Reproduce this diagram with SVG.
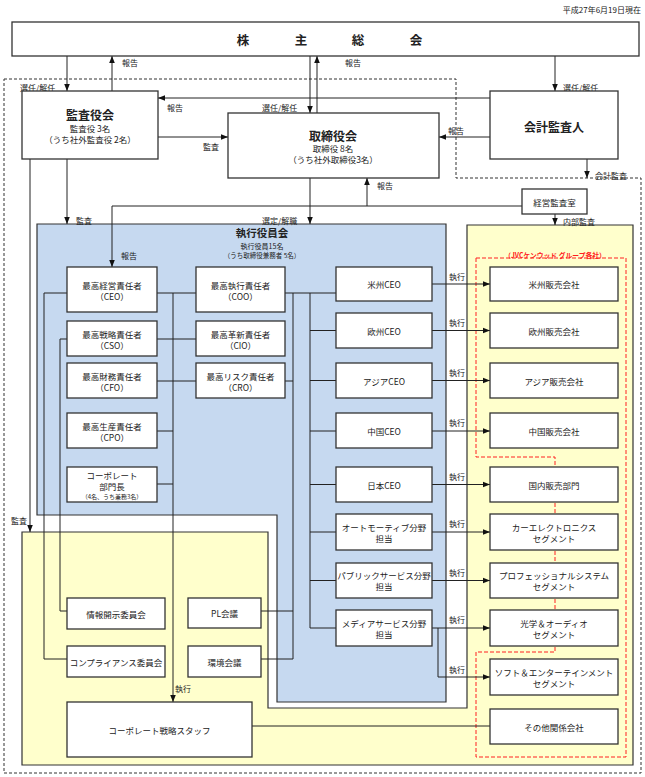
<svg xmlns="http://www.w3.org/2000/svg" width="645" height="777" viewBox="0 0 645 777">
<style>
text{font-family:"Noto Sans CJK JP","Noto Sans",sans-serif;fill:#222;dominant-baseline:central}
.b{fill:#fff;stroke:#333;stroke-width:1.3}
.t{font-size:8.5px;text-anchor:middle}
.s{font-size:7px;text-anchor:middle}
.h{font-size:12px;font-weight:bold;text-anchor:middle}
.k{font-size:12.5px;font-weight:bold;text-anchor:middle}
.l{font-size:8px}
.c{fill:none;stroke:#222;stroke-width:1}
.a{marker-end:url(#ah)}
</style>
<defs>
<marker id="ah" viewBox="0 0 10 10" refX="10" refY="5" markerWidth="7" markerHeight="7" orient="auto" markerUnits="userSpaceOnUse">
<path d="M0,1 L10,5 L0,9 z" fill="#111"/>
</marker>
</defs>
<rect width="645" height="777" fill="#fff"/>
<text x="641" y="9" style="font-size:8px;text-anchor:end">平成27年6月19日現在</text>
<!-- outer dashed boundary -->
<path d="M4,79 H456 V178 H641 V773 H4 Z" fill="none" stroke="#333" stroke-width="1" stroke-dasharray="3,2"/>
<!-- regions -->
<path id="yellow-region" d="M22,532 H268 V708 H467 V225 H633 V765 H22 Z" fill="#FFFFCC" stroke="#333" stroke-width="1.2"/>
<path id="blue-region" d="M37,224 H446 V702 H277 V515 H37 Z" fill="#C6D9F0" stroke="#333" stroke-width="1.2"/>
<path d="M476,258 H626 V757 H476 V652 H555 V457 H476 Z" fill="none" stroke="#FF2020" stroke-width="1" stroke-dasharray="4,2"/>
<text x="555" y="255" style="font-size:6.8px;text-anchor:middle;fill:#FF2020;font-weight:bold">（JVCケンウッド グループ各社）</text>
<g id="exec-header">
<text x="262" y="232" style="font-size:10.5px;font-weight:bold;text-anchor:middle">執行役員会</text>
<text x="262" y="245.5" class="s">執行役員15名</text>
<text x="262" y="254.5" style="font-size:6.5px;text-anchor:middle">（うち取締役兼務者 5名）</text>
</g>
<!-- connectors -->
<g id="connectors">
<path class="c a" d="M67,56 V91"/>
<path class="c a" d="M112,91 V56"/>
<path class="c a" d="M310,56 V113"/>
<path class="c a" d="M317,113 V56"/>
<path class="c a" d="M555,56 V91"/>
<path class="c a" d="M490,98 H158"/>
<path class="c a" d="M490,137 H439"/>
<path class="c a" d="M158,137 H228"/>
<path class="c a" d="M310,178 V224"/>
<path class="c a" d="M67,159 V224"/>
<path class="c a" d="M30,159 V532"/>
<path class="c a" d="M522,206 H112 V267"/>
<path class="c a" d="M367,206 V178"/>
<path class="c a" d="M555,214 V225"/>
<path class="c a" d="M587,159 V178"/>
<path class="c" d="M67,293 H44 V659 H67"/>
<path class="c" d="M67,339 H60 V611 H67"/>
<path class="c" d="M157,293 H196"/>
<path class="c" d="M157,339 H196"/>
<path class="c" d="M157,381 H196"/>
<path class="c" d="M157,431 H173"/>
<path class="c" d="M157,484 H173"/>
<path class="c a" d="M173,293 V702"/>
<path class="c" d="M285,293 H336"/>
<path class="c" d="M293,293 V659"/>
<path class="c" d="M285,381 H293"/>
<path class="c" d="M261,611 H293"/>
<path class="c" d="M261,659 H293"/>
<path class="c" d="M310,293 V628 M310,330.5 H336 M310,380.5 H336 M310,431 H336 M310,484.5 H336 M310,532 H336 M310,580.5 H336 M310,628 H336"/>
<path class="c a" d="M432,284 H490"/>
<path class="c a" d="M432,330.5 H490"/>
<path class="c a" d="M432,380.5 H490"/>
<path class="c a" d="M432,431 H490"/>
<path class="c a" d="M432,484.5 H490"/>
<path class="c a" d="M432,532 H490"/>
<path class="c a" d="M432,580.5 H490"/>
<path class="c a" d="M432,628 H490"/>
<path class="c a" d="M438,628 V677 H490"/>
<path class="c" d="M252,726 H490"/>
</g>
<!-- connector labels -->
<g id="labels" class="l">
<text x="20" y="87">選任/解任</text>
<text x="122" y="62">報告</text>
<text x="345" y="62">報告</text>
<text x="563" y="87">選任/解任</text>
<text x="167" y="107">報告</text>
<text x="262" y="107">選任/解任</text>
<text x="203" y="146">監査</text>
<text x="448" y="130">報告</text>
<text x="595" y="175">会計監査</text>
<text x="377" y="185">報告</text>
<text x="563" y="221">内部監査</text>
<text x="76" y="220">監査</text>
<text x="262" y="220">選定/解職</text>
<text x="121" y="255">報告</text>
<text x="11" y="520">監査</text>
<text x="175" y="688">執行</text>
<text x="449" y="276">執行</text>
<text x="449" y="322">執行</text>
<text x="449" y="372">執行</text>
<text x="449" y="422">執行</text>
<text x="449" y="476">執行</text>
<text x="449" y="523">執行</text>
<text x="449" y="572">執行</text>
<text x="449" y="619">執行</text>
<text x="449" y="669">執行</text>
</g>
<!-- nodes -->
<g id="shareholders"><rect class="b" x="12" y="22" width="627" height="34"/><text y="39" class="k"><tspan x="243">株</tspan><tspan x="301">主</tspan><tspan x="358">総</tspan><tspan x="416">会</tspan></text></g>
<g id="kansayakukai"><rect class="b" x="22" y="91" width="136" height="68"/><text x="90" y="114" class="h">監査役会</text><text x="90" y="128" class="t">監査役 3名</text><text x="90" y="139" class="t">（うち社外監査役 2名）</text></g>
<g id="torishimariyakukai"><rect class="b" x="228" y="113" width="211" height="65"/><text x="333" y="135" class="h">取締役会</text><text x="333" y="148" class="t">取締役 8名</text><text x="333" y="159" class="t">（うち社外取締役3名）</text></g>
<g id="kaikei"><rect class="b" x="490" y="91" width="128" height="68"/><text x="554" y="126" class="h">会計監査人</text></g>
<g id="keiei-kansa"><rect class="b" x="522" y="189" width="65" height="25"/><text x="554.5" y="202" class="t">経営監査室</text></g>
<g id="ceo"><rect class="b" x="67" y="267" width="90" height="45"/><text x="112" y="285" class="t">最高経営責任者</text><text x="112" y="296" class="t">（CEO）</text></g>
<g id="coo"><rect class="b" x="196" y="267" width="89" height="45"/><text x="240.5" y="285" class="t">最高執行責任者</text><text x="240.5" y="296" class="t">（COO）</text></g>
<g id="cso"><rect class="b" x="67" y="321" width="90" height="35"/><text x="112" y="334" class="t">最高戦略責任者</text><text x="112" y="345" class="t">（CSO）</text></g>
<g id="cio"><rect class="b" x="196" y="321" width="89" height="35"/><text x="240.5" y="334" class="t">最高革新責任者</text><text x="240.5" y="345" class="t">（CIO）</text></g>
<g id="cfo"><rect class="b" x="67" y="363" width="90" height="35"/><text x="112" y="376" class="t">最高財務責任者</text><text x="112" y="387" class="t">（CFO）</text></g>
<g id="cro"><rect class="b" x="196" y="363" width="89" height="35"/><text x="240.5" y="376" class="t">最高リスク責任者</text><text x="240.5" y="387" class="t">（CRO）</text></g>
<g id="cpo"><rect class="b" x="67" y="413" width="90" height="35"/><text x="112" y="426" class="t">最高生産責任者</text><text x="112" y="437" class="t">（CPO）</text></g>
<g id="corp-head"><rect class="b" x="67" y="467" width="90" height="35"/><text x="112" y="475" class="t">コーポレート</text><text x="112" y="486" class="t">部門長</text><text x="112" y="496" style="font-size:6px;text-anchor:middle">（4名、うち兼務3名）</text></g>
<g id="us-ceo"><rect class="b" x="336" y="267" width="96" height="34"/><text x="384" y="284" class="t">米州CEO</text></g>
<g id="eu-ceo"><rect class="b" x="336" y="313" width="96" height="35"/><text x="384" y="330.5" class="t">欧州CEO</text></g>
<g id="asia-ceo"><rect class="b" x="336" y="363" width="96" height="35"/><text x="384" y="380.5" class="t">アジアCEO</text></g>
<g id="china-ceo"><rect class="b" x="336" y="413" width="96" height="35"/><text x="384" y="431" class="t">中国CEO</text></g>
<g id="japan-ceo"><rect class="b" x="336" y="467" width="96" height="35"/><text x="384" y="484.5" class="t">日本CEO</text></g>
<g id="auto"><rect class="b" x="336" y="514" width="96" height="36"/><text x="384" y="527" class="t">オートモーティブ分野</text><text x="384" y="538" class="t">担当</text></g>
<g id="public"><rect class="b" x="336" y="563" width="96" height="35"/><text x="384" y="575" class="t">パブリックサービス分野</text><text x="384" y="586" class="t">担当</text></g>
<g id="media"><rect class="b" x="336" y="610" width="96" height="36"/><text x="384" y="623" class="t">メディアサービス分野</text><text x="384" y="634" class="t">担当</text></g>
<g id="us-sales"><rect class="b" x="490" y="267" width="128" height="34"/><text x="554" y="284" class="t">米州販売会社</text></g>
<g id="eu-sales"><rect class="b" x="490" y="313" width="128" height="35"/><text x="554" y="330.5" class="t">欧州販売会社</text></g>
<g id="asia-sales"><rect class="b" x="490" y="363" width="128" height="35"/><text x="554" y="380.5" class="t">アジア販売会社</text></g>
<g id="china-sales"><rect class="b" x="490" y="413" width="128" height="35"/><text x="554" y="431" class="t">中国販売会社</text></g>
<g id="domestic"><rect class="b" x="490" y="467" width="128" height="35"/><text x="554" y="484.5" class="t">国内販売部門</text></g>
<g id="car"><rect class="b" x="490" y="514" width="128" height="36"/><text x="554" y="527" class="t">カーエレクトロニクス</text><text x="554" y="538" class="t">セグメント</text></g>
<g id="pro"><rect class="b" x="490" y="563" width="128" height="35"/><text x="554" y="575" class="t">プロフェッショナルシステム</text><text x="554" y="586" class="t">セグメント</text></g>
<g id="optical"><rect class="b" x="490" y="610" width="128" height="36"/><text x="554" y="623" class="t">光学＆オーディオ</text><text x="554" y="634" class="t">セグメント</text></g>
<g id="soft"><rect class="b" x="490" y="659" width="128" height="36"/><text x="554" y="672" class="t">ソフト＆エンターテインメント</text><text x="554" y="683" class="t">セグメント</text></g>
<g id="others"><rect class="b" x="490" y="709" width="128" height="35"/><text x="554" y="726.5" class="t">その他関係会社</text></g>
<g id="disclosure"><rect class="b" x="67" y="598" width="98" height="31"/><text x="116" y="613.5" class="t">情報開示委員会</text></g>
<g id="compliance"><rect class="b" x="67" y="646" width="98" height="31"/><text x="116" y="661.5" class="t">コンプライアンス委員会</text></g>
<g id="pl"><rect class="b" x="188" y="598" width="73" height="30"/><text x="224.5" y="613" class="t">PL会議</text></g>
<g id="env"><rect class="b" x="188" y="646" width="73" height="31"/><text x="224.5" y="661.5" class="t">環境会議</text></g>
<g id="corp-staff"><rect class="b" x="67" y="702" width="185" height="55"/><text x="159.5" y="729.5" class="t">コーポレート戦略スタッフ</text></g>
</svg>
